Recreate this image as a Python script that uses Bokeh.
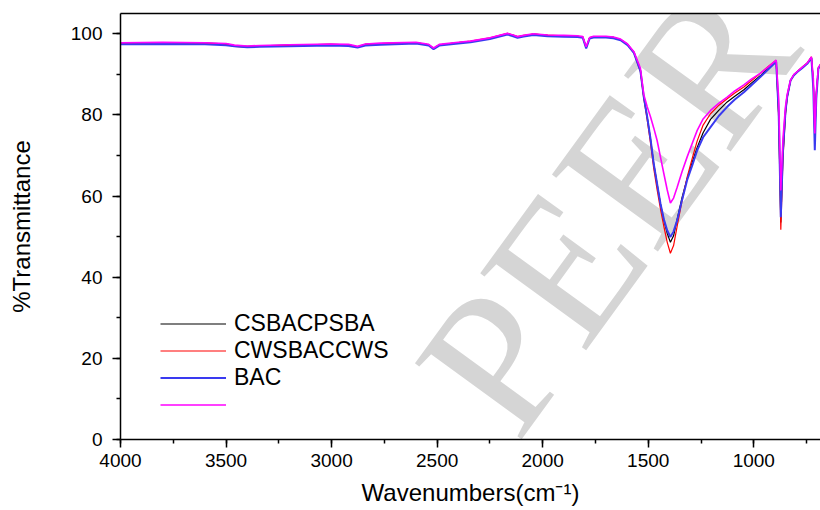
import math
from bokeh.plotting import figure
from bokeh.models import (Range1d, SingleIntervalTicker, LinearAxis, FixedTicker,
                          Legend, LegendItem, Label, ColumnDataSource)
from bokeh.embed import file_html
from bokeh.resources import INLINE

# ---------------- data ----------------
wavenumbers = [4000, 3800, 3600, 3500, 3460, 3400, 3340, 3200, 3005, 2920,
               2877, 2840, 2768, 2600, 2540, 2517, 2490, 2400, 2342, 2250,
               2167, 2140, 2119, 2090, 2044, 1977, 1900, 1835, 1810, 1794,
               1778, 1759, 1700, 1665, 1631, 1598, 1568, 1537, 1521, 1505,
               1489, 1474, 1458, 1442, 1426, 1410, 1395, 1380, 1363, 1340,
               1316, 1290, 1268, 1240, 1205, 1165, 1126, 1090, 1047, 1010,
               968, 930, 894, 882, 872, 862, 850, 842, 826, 810,
               794, 770, 747, 727, 718, 711, 704, 694, 684]

csbacpsba = [97.7, 97.8, 97.7, 97.5, 97.1, 96.9, 97.0, 97.2, 97.4, 97.3,
             96.8, 97.4, 97.6, 97.8, 97.3, 96.4, 97.3, 97.8, 98.1, 98.9,
             100.0, 99.6, 99.2, 99.5, 99.9, 99.6, 99.5, 99.4, 99.2, 96.6,
             99.0, 99.3, 99.3, 99.1, 98.6, 97.4, 95.5, 91.0, 84.4, 79.5,
             74.0, 68.0, 63.0, 58.1, 54.0, 50.8, 48.6, 50.2, 54.3, 59.6,
             64.2, 68.6, 72.0, 75.6, 78.9, 81.2, 83.2, 84.6, 86.2, 87.9,
             89.7, 91.6, 93.4, 80.0, 53.5, 70.0, 80.5, 84.4, 88.5, 89.9,
             90.6, 91.7, 92.7, 94.2, 88.0, 74.5, 85.0, 91.6, 92.4]

cwsbaccws = [97.7, 97.8, 97.7, 97.4, 96.9, 96.7, 96.9, 97.2, 97.4, 97.3,
             96.8, 97.4, 97.6, 97.8, 97.3, 96.4, 97.3, 97.8, 98.2, 99.0,
             100.1, 99.7, 99.3, 99.6, 99.9, 99.7, 99.5, 99.4, 99.2, 96.6,
             99.0, 99.3, 99.3, 99.1, 98.5, 97.3, 95.3, 90.6, 84.0, 78.8,
             73.0, 66.8, 61.6, 56.8, 52.5, 48.6, 45.9, 47.8, 52.6, 58.8,
             64.6, 69.6, 73.6, 77.5, 80.3, 82.4, 84.0, 85.4, 86.9, 88.5,
             90.3, 92.0, 93.5, 79.0, 51.7, 69.0, 80.0, 84.2, 88.4, 89.9,
             90.7, 91.8, 92.8, 94.3, 88.5, 75.0, 85.2, 91.6, 92.4]

bac = [97.4, 97.5, 97.4, 97.2, 96.9, 96.7, 96.8, 96.9, 97.1, 97.0,
       96.6, 97.1, 97.3, 97.6, 97.1, 96.2, 97.1, 97.6, 97.9, 98.7,
       99.8, 99.4, 99.0, 99.3, 99.7, 99.4, 99.3, 99.2, 99.0, 96.4,
       98.8, 99.1, 99.1, 98.9, 98.4, 97.2, 95.3, 90.8, 84.4, 79.5,
       74.0, 68.0, 63.0, 58.1, 54.3, 51.5, 49.9, 51.3, 54.0, 59.0,
       63.9, 67.8, 71.3, 74.5, 77.0, 79.8, 82.0, 83.8, 85.6, 87.4,
       89.4, 91.3, 93.1, 80.5, 54.8, 71.0, 80.8, 84.4, 88.5, 89.8,
       90.6, 91.6, 92.6, 94.0, 86.5, 71.3, 84.0, 91.4, 92.3]

fourth = [97.8, 97.9, 97.8, 97.6, 97.2, 97.0, 97.1, 97.3, 97.5, 97.4,
          96.9, 97.5, 97.7, 97.9, 97.4, 96.5, 97.4, 97.9, 98.2, 99.0,
          100.1, 99.7, 99.3, 99.6, 100.0, 99.7, 99.6, 99.5, 99.3, 96.8,
          99.1, 99.4, 99.4, 99.2, 98.7, 97.5, 95.6, 91.5, 85.0, 82.0,
          79.5, 76.8, 73.7, 69.6, 65.5, 61.5, 58.3, 59.5, 62.2, 66.0,
          69.6, 73.2, 76.2, 79.0, 81.1, 82.9, 84.4, 85.9, 87.4, 88.9,
          90.3, 91.9, 93.5, 84.0, 61.4, 74.0, 82.0, 85.0, 88.6, 90.0,
          90.7, 91.8, 92.8, 94.3, 89.0, 75.4, 85.5, 91.7, 92.5]

series_names = ["CSBACPSBA", "CWSBACCWS", "BAC", " "]
series_colors = ["#000000", "#ff0000", "#3a3af0", "#ff00ff"]
series_widths = [1.2, 1.2, 2.0, 1.6]

x_start, x_end = 4000, 684
y_start, y_end = 0, 105

FONT = "Liberation Sans"

# ---------------- figure ----------------
p = figure(width=820, height=510, output_backend="svg", toolbar_location=None,
           x_range=Range1d(x_start, x_end), y_range=Range1d(y_start, y_end),
           min_border_left=120, min_border_right=0, min_border_top=13,
           min_border_bottom=71)
p.background_fill_color = "white"
p.border_fill_color = "white"
p.outline_line_color = None
p.xgrid.visible = False
p.ygrid.visible = False

# watermark "R PEER", frame screen coordinates
peer_cx, peer_cy = 486, 232      # centre of the word "PEER"
wm_angle = 54                    # degrees
wm_size = 200                    # px
wm_color = "#d5d5d5"
a = math.radians(wm_angle)


def wm_label(text, shift_em, level):
    s = shift_em * wm_size
    return Label(x=peer_cx + s * math.cos(a), y=peer_cy + s * math.sin(a),
                 x_units="screen", y_units="screen", text=text,
                 angle=wm_angle, angle_units="deg",
                 text_font="Liberation Serif", text_font_size=f"{wm_size}px",
                 text_color=wm_color, text_align="center",
                 text_baseline="middle", level=level)


# "EER" sits under the spectra; "R P" lies over the axis area (no data there)
p.add_layout(wm_label("EER", 0.278, "underlay"))
p.add_layout(wm_label("R P", -1.403, "annotation"))

p.xaxis.ticker = SingleIntervalTicker(interval=500, num_minor_ticks=2)
p.yaxis.ticker = SingleIntervalTicker(interval=20, num_minor_ticks=2)

for ax in (p.xaxis[0], p.yaxis[0]):
    ax.level = "overlay"
    ax.axis_line_width = 1.5
    ax.axis_line_color = "black"
    ax.major_tick_line_width = 1.5
    ax.minor_tick_line_width = 1.5
    ax.major_tick_line_color = "black"
    ax.minor_tick_line_color = "black"
    ax.major_tick_out = 8
    ax.major_tick_in = 0
    ax.minor_tick_out = 4
    ax.minor_tick_in = 0
    ax.major_label_text_font = FONT
    ax.major_label_text_font_size = "19px"
    ax.major_label_text_color = "black"
    ax.axis_label_text_font = FONT
    ax.axis_label_text_font_style = "normal"
    ax.axis_label_text_color = "black"

p.xaxis.axis_label = "Wavenumbers(cm\u207b\u00b9)"
p.xaxis.axis_label_text_font_size = "24px"
p.xaxis.major_label_standoff = 6
p.xaxis.axis_label_standoff = 9

p.yaxis.axis_label = "%Transmittance"
p.yaxis.axis_label_text_font_size = "24px"
p.yaxis.major_label_standoff = 10
p.yaxis.axis_label_standoff = 33

# top spine
top = LinearAxis(ticker=FixedTicker(ticks=[]), major_label_text_font_size="0px",
                 major_tick_out=0, major_tick_in=0, minor_tick_out=0,
                 minor_tick_in=0, major_label_standoff=0,
                 axis_line_width=1.5, axis_line_color="black")
p.add_layout(top, "above")

series = [csbacpsba, cwsbaccws, bac, fourth]
items = []
for name, vals, col, lw in zip(series_names, series, series_colors, series_widths):
    src = ColumnDataSource(data=dict(x=wavenumbers, y=vals))
    r = p.line("x", "y", source=src, line_color=col, line_width=lw)
    items.append(LegendItem(label=name, renderers=[r]))

legend = Legend(items=items, location=(40, 21), padding=0, margin=0, spacing=0,
                glyph_width=66, glyph_height=27, label_height=27,
                label_standoff=8, label_text_font=FONT,
                label_text_font_size="23px", label_text_color="black",
                border_line_color=None, background_fill_alpha=0)
p.add_layout(legend)

open("out.html", "w").write(file_html(p, INLINE))
